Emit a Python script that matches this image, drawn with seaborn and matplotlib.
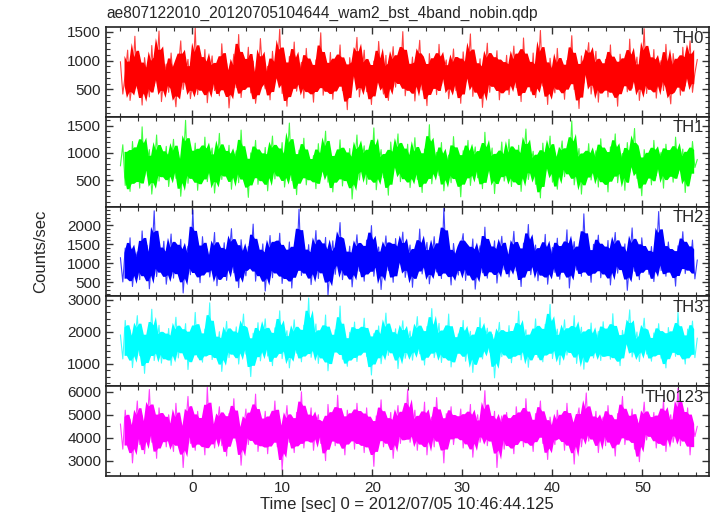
import numpy as np
import pandas as pd
import matplotlib
matplotlib.use("Agg")
import matplotlib.pyplot as plt
from matplotlib.ticker import MultipleLocator
import seaborn as sns

# light curve values (counts/sec), one list per band
th0 = [980, 420, 760, 1180, 310, 640, 1420, 520, 880, 230, 1050, 690, 370, 1260, 560, 810, 1510, 290, 720, 940,
       450, 1130, 610, 200, 870, 1340, 500, 780, 1020, 340, 660, 1560, 410, 920, 580, 1190, 270, 750, 1080, 480,
       830, 390, 1290, 620, 950, 180, 710, 1110, 530, 1450, 360, 800, 670, 1230, 440, 990, 260, 590, 1380, 720,
       510, 900, 320, 1160, 640, 780, 1540, 430, 860, 210, 1070, 580, 1320, 470, 740, 970, 350, 1210, 600, 840,
       280, 1010, 690, 1480, 400, 760, 550, 1140, 330, 920, 650, 1270, 480, 810, 150, 1050, 620, 890, 1400, 370,
       730, 1180, 460, 860, 240, 990, 570, 1330, 700, 420, 1090, 310, 780, 1240, 540, 930, 680, 1500, 390, 820,
       600, 1060, 300, 870, 1350, 490, 740, 220, 1120, 650, 960, 410, 1280, 570, 830, 1010, 340, 710, 1200, 480,
       910, 260, 1150, 620, 790, 1460, 380, 880, 540, 1030, 190, 760, 1300, 450, 940, 680, 1170, 320, 850, 590,
       1090, 410, 770, 1250, 530, 980, 290, 1390, 640, 810, 470, 1130, 360, 720, 1520, 560, 900, 240, 1040, 670,
       440, 1210, 580, 860, 330, 1000, 720, 1430, 500, 790, 170, 1080, 610, 950, 1310, 420, 760, 1160, 280, 890,
       630, 1020, 370, 1270, 550, 840, 210, 1110, 690, 970, 460, 1370, 520, 800, 1060, 310, 740, 1550, 430, 910,
       590, 1190, 350, 830, 1000, 480, 1280, 640, 250, 1120, 710, 940, 400, 1230, 560, 870, 1340, 450, 780, 1020]

th1 = [760, 1150, 400, 880, 290, 1210, 620, 990, 350, 1480, 560, 830, 1060, 240, 710, 1330, 480, 940, 660, 1120,
       380, 800, 1250, 530, 1010, 200, 760, 1600, 440, 890, 640, 1180, 310, 970, 580, 1290, 470, 850, 1090, 260,
       720, 1360, 510, 930, 650, 1140, 330, 820, 1040, 450, 1420, 600, 780, 180, 1000, 690, 1230, 420, 880, 570,
       1100, 300, 840, 1310, 520, 970, 640, 1190, 370, 760, 1550, 490, 910, 230, 1050, 700, 1270, 410, 830, 620,
       950, 340, 1170, 560, 800, 1400, 460, 1020, 280, 870, 680, 1240, 390, 940, 610, 1080, 150, 770, 1330, 500,
       860, 1130, 420, 990, 630, 1460, 320, 780, 1060, 540, 900, 220, 1200, 670, 830, 1350, 470, 1000, 590, 1160,
       360, 740, 1280, 510, 920, 270, 1070, 650, 1520, 430, 850, 1010, 580, 1190, 300, 760, 960, 450, 1300, 620,
       880, 190, 1040, 710, 1230, 400, 820, 1110, 540, 960, 340, 1380, 600, 790, 1090, 250, 870, 660, 1200, 480,
       730, 1250, 380, 980, 570, 1140, 290, 850, 1440, 510, 780, 1030, 420, 910, 170, 1180, 640, 820, 1310, 460,
       1000, 330, 860, 1220, 560, 940, 680, 1590, 410, 770, 1080, 240, 900, 620, 1170, 500, 810, 1040, 370, 1260,
       590, 920, 280, 1110, 720, 1350, 450, 830, 990, 310, 1190, 640, 880, 1450, 530, 760, 210, 1060, 690, 950,
       410, 1230, 580, 870, 1010, 350, 1160, 700, 940, 460, 1290, 620, 800, 1070, 270, 980, 540, 1210, 730, 880]

th2 = [1150, 510, 1400, 730, 1670, 390, 1030, 1300, 570, 1850, 800, 1470, 330, 1130, 2380, 650, 1240, 910, 1580, 450,
       1010, 1770, 610, 1340, 870, 1630, 220, 1090, 1450, 700, 2400, 830, 1210, 490, 1700, 940, 1370, 640, 1060, 1810,
       410, 1270, 780, 1540, 550, 1170, 1910, 750, 1330, 360, 1620, 990, 670, 1440, 1120, 2030, 530, 1200, 850, 1510,
       270, 1050, 1730, 620, 1390, 900, 1790, 470, 1140, 760, 1560, 350, 1310, 980, 2420, 680, 1230, 820, 1490, 440,
       1080, 1860, 600, 1360, 930, 1680, 160, 1020, 1590, 710, 1250, 2070, 570, 1160, 840, 1450, 380, 1110, 1750, 790,
       1300, 530, 1610, 950, 1990, 660, 1190, 1430, 310, 1100, 1720, 810, 1370, 500, 1650, 880, 1220, 1820, 630, 1040,
       1480, 370, 1280, 890, 1900, 720, 1130, 1550, 460, 1010, 1700, 770, 1340, 600, 2450, 920, 1180, 430, 1520, 960,
       690, 1400, 1780, 550, 1210, 860, 1640, 320, 1070, 1460, 750, 1950, 610, 1290, 980, 1590, 480, 1150, 1710, 830,
       1360, 640, 1100, 1840, 800, 1250, 390, 1530, 940, 2020, 700, 1170, 1480, 540, 1330, 870, 1760, 450, 1050, 1420,
       760, 1660, 580, 1230, 990, 1880, 350, 1120, 1570, 820, 1310, 660, 2300, 910, 1190, 500, 1500, 1030, 1740, 620,
       1270, 840, 1600, 430, 1160, 1810, 740, 1380, 950, 1510, 290, 1080, 1930, 790, 1320, 570, 1670, 1000, 1220, 710,
       1440, 520, 1140, 2360, 810, 1350, 660, 1560, 900, 1180, 400, 1460, 1020, 1830, 730, 1270, 930, 1610, 590, 1090]

th3 = [1900, 1150, 2350, 1400, 2050, 880, 1700, 2500, 1250, 1980, 700, 1850, 1450, 2700, 1100, 1620, 2200, 1020, 1780, 1320,
       2100, 950, 1650, 2450, 1180, 1900, 1540, 2250, 820, 1730, 1360, 2600, 1210, 1820, 1050, 2080, 1480, 2900, 1130, 1690,
       1270, 2000, 760, 1580, 2320, 1190, 1870, 1430, 2150, 990, 1760, 2550, 1300, 1640, 600, 1950, 1380, 2280, 1090, 1720,
       2400, 1240, 1810, 940, 2120, 1520, 2650, 1160, 1690, 2030, 870, 1590, 2370, 1330, 1920, 1060, 2200, 1460, 3050, 1200,
       1680, 2240, 1010, 1840, 1390, 2520, 780, 1750, 1280, 2060, 1470, 2800, 1140, 1610, 920, 1980, 1350, 2300, 1070, 1860,
       1520, 2420, 1230, 1780, 650, 1940, 1410, 2180, 1000, 1660, 2580, 1260, 1890, 1440, 2090, 850, 1730, 2340, 1170, 1570,
       2020, 1110, 1700, 2470, 1310, 1880, 960, 2160, 1500, 2720, 1190, 1630, 2260, 1040, 1800, 1370, 2550, 900, 1740, 1250,
       1930, 1420, 2350, 1080, 1660, 2010, 730, 1820, 1290, 2440, 1150, 1710, 2110, 1360, 1910, 560, 1600, 2290, 1220, 1790,
       1340, 2190, 1030, 1850, 1480, 2640, 1120, 1690, 2060, 890, 1760, 1400, 2400, 1200, 1950, 1060, 2230, 1530, 2850, 1160,
       1720, 2080, 970, 1640, 2370, 1270, 1820, 1450, 2500, 1010, 1700, 2140, 830, 1880, 1330, 2270, 1180, 1590, 2010, 1100,
       2310, 1390, 1870, 1140, 2560, 1250, 1750, 940, 2040, 1480, 1810, 2680, 1210, 1560, 1990, 1070, 1740, 2420, 1300, 1650,
       1080, 1960, 1440, 2250, 1170, 1770, 870, 2130, 1510, 1900, 1230, 2600, 1350, 1680, 990, 2080, 1420, 2330, 1190, 1800]

th0123 = [4600, 3500, 5200, 3900, 4800, 2900, 4300, 5600, 3700, 4950, 3300, 4500, 6100, 3800, 4700, 3100, 5300, 4100, 4850, 3600,
          5000, 4200, 3400, 5500, 4000, 4650, 2700, 4400, 5800, 3750, 4900, 3450, 5150, 4050, 4550, 3250, 6200, 3950, 4750, 3550,
          4450, 5350, 3650, 4850, 3200, 5050, 4150, 5700, 3850, 4600, 2800, 4350, 5250, 3700, 4950, 4100, 5900, 3400, 4500, 3950,
          5150, 3300, 4700, 4050, 5600, 3600, 4800, 2600, 4250, 5400, 3800, 4600, 3350, 5100, 4000, 6000, 3550, 4700, 4250, 5300,
          3450, 4550, 5000, 3750, 4400, 3000, 5450, 4100, 4750, 3650, 5850, 3900, 4650, 3250, 5200, 4300, 4950, 3500, 5500, 4050,
          4800, 3350, 5300, 3900, 4500, 2750, 4950, 4200, 5650, 3600, 4600, 3950, 5100, 3100, 4450, 5400, 3750, 4850, 4100, 6100,
          3800, 4400, 5200, 3450, 4700, 4050, 5550, 3250, 4550, 4900, 3600, 5750, 4150, 4650, 2900, 5050, 4250, 5350, 3700, 4600,
          4350, 5250, 3550, 4800, 3950, 5450, 3150, 4500, 5000, 3800, 4300, 6050, 3650, 4750, 4100, 5150, 2700, 4400, 4950, 3500,
          5100, 3850, 4600, 3300, 5350, 4200, 4850, 3600, 5700, 4000, 4500, 3400, 5050, 4350, 5600, 3750, 4650, 3050, 4900, 4150,
          3700, 5200, 4300, 4800, 3450, 5500, 3950, 4600, 2850, 4750, 5300, 3600, 4450, 5950, 3850, 4700, 4050, 5150, 3350, 4550,
          4900, 3650, 5400, 4000, 4550, 3200, 5050, 4350, 5800, 3700, 4650, 4150, 5250, 3500, 4800, 2950, 4450, 5550, 3900, 4700,
          4250, 5100, 3550, 4850, 4000, 5650, 3400, 4600, 5000, 3800, 4400, 6150, 3650, 4950, 4100, 5300, 3250, 4700, 4050, 4500]

bands = ["TH0", "TH1", "TH2", "TH3", "TH0123"]
series = [th0, th1, th2, th3, th0123]
colors = ["#ff0000", "#00ff00", "#0000ff", "#00ffff", "#ff00ff"]
ylims = [(27, 1580), (10, 1665), (130, 2490), (300, 3100), (2330, 6245)]
ymajor = [500, 500, 500, 1000, 1000]
yminor = [100, 100, 100, 200, 500]

t_start, t_end = -8.0, 56.1
title = "ae807122010_20120705104644_wam2_bst_4band_nobin.qdp"
win = 4  # samples per sliding window for the dense core

sns.set_style("ticks")
plt.rcParams["font.family"] = ["Liberation Sans", "DejaVu Sans"]

fig, axes = plt.subplots(5, 1, figsize=(7.17, 5.16), dpi=100, sharex=True)
fig.subplots_adjust(left=106/717, right=709/717, top=1-27/516, bottom=1-476/516, hspace=0)

for ax, name, vals, col, yl, ma, mi in zip(axes, bands, series, colors, ylims, ymajor, yminor):
    n = len(vals)
    t = np.linspace(t_start, t_end, n)
    dt = t[1] - t[0]
    raw = pd.DataFrame({"time": t, "rate": vals})

    # each window of consecutive samples shares one x, seaborn spans it with a band
    m = n - win + 1
    core = pd.DataFrame({
        "time": np.concatenate([t[:m] + (win - 1) / 2 * dt] * win),
        "rate": np.concatenate([np.asarray(vals[k:k + m]) for k in range(win)]),
    })

    sns.lineplot(data=raw, x="time", y="rate", ax=ax, color=col, linewidth=0.8, alpha=0.75,
                 estimator=None, sort=False)
    sns.lineplot(data=core, x="time", y="rate", ax=ax, color=col, linewidth=0,
                 estimator="mean", errorbar=("pi", 70), err_kws={"alpha": 1, "linewidth": 0})

    ax.set_ylim(*yl)
    ax.set_xlim(-9.6, 57.4)
    ax.yaxis.set_major_locator(MultipleLocator(ma))
    ax.yaxis.set_minor_locator(MultipleLocator(mi))
    ax.xaxis.set_major_locator(MultipleLocator(10))
    ax.xaxis.set_minor_locator(MultipleLocator(2))
    ax.tick_params(which="both", direction="in", top=True, right=True, labelsize=11, color="#333333")
    ax.tick_params(which="major", length=5, width=1)
    ax.tick_params(which="minor", length=3, width=0.8)
    ax.set_xlabel("")
    ax.set_ylabel("")
    for sp in ax.spines.values():
        sp.set_linewidth(1.2)
        sp.set_color("#222222")
    ax.text(0.992, 0.96, name, transform=ax.transAxes, ha="right", va="top", fontsize=12)

fig.text(106/717, 1-18/516, title, ha="left", va="baseline", fontsize=11.2)
fig.text(41/717, 1-251/516, "Counts/sec", rotation=90, ha="center", va="center", fontsize=12)
fig.text(407/717, 1-505/516, "Time [sec] 0 = 2012/07/05 10:46:44.125", ha="center", va="center", fontsize=12)

fig.savefig("out.png", dpi=100)
